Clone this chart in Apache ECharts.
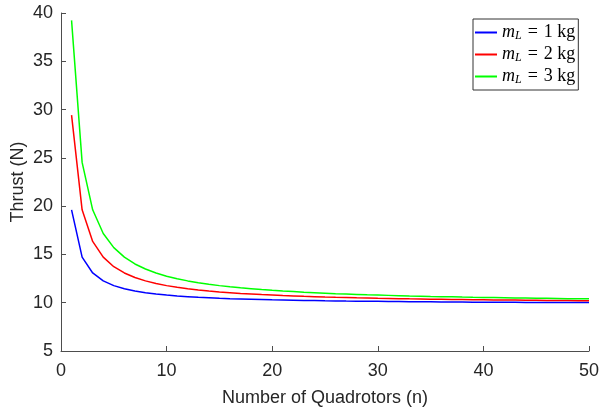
<!DOCTYPE html>
<html>
<head>
<meta charset="utf-8">
<script src="https://cdn.jsdelivr.net/npm/echarts@6/dist/echarts.min.js"></script>
<style>
  html, body { margin: 0; padding: 0; background: #fff; }
  #chart { width: 600px; height: 412px; }
</style>
</head>
<body>
<div id="chart"></div>
<script>
// number of quadrotors
const nValues = [1,2,3,4,5,6,7,8,9,10,11,12,13,14,15,16,17,18,19,20,21,22,23,24,25,
  26,27,28,29,30,31,32,33,34,35,36,37,38,39,40,41,42,43,44,45,46,47,48,49,50];

// thrust per quadrotor (N)
const thrustL1 = [19.62,14.72,13.08,12.26,11.77,11.45,11.21,11.04,10.90,10.79,10.70,10.63,10.56,10.51,10.46,
  10.42,10.39,10.36,10.33,10.30,10.28,10.26,10.24,10.22,10.20,10.19,10.17,10.16,10.15,10.14,
  10.13,10.12,10.11,10.10,10.09,10.08,10.08,10.07,10.06,10.06,10.05,10.04,10.04,10.03,10.03,
  10.02,10.02,10.01,10.01,10.01];
const thrustL2 = [29.43,19.62,16.35,14.72,13.73,13.08,12.61,12.26,11.99,11.77,11.59,11.45,11.32,11.21,11.12,
  11.04,10.96,10.90,10.84,10.79,10.74,10.70,10.66,10.63,10.59,10.56,10.54,10.51,10.49,10.46,
  10.44,10.42,10.40,10.39,10.37,10.36,10.34,10.33,10.31,10.30,10.29,10.28,10.27,10.26,10.25,
  10.24,10.23,10.22,10.21,10.20];
const thrustL3 = [39.24,24.53,19.62,17.17,15.70,14.72,14.01,13.49,13.08,12.75,12.49,12.26,12.07,11.91,11.77,
  11.65,11.54,11.45,11.36,11.28,11.21,11.15,11.09,11.04,10.99,10.94,10.90,10.86,10.82,10.79,
  10.76,10.73,10.70,10.68,10.65,10.63,10.61,10.58,10.56,10.55,10.53,10.51,10.49,10.48,10.46,
  10.45,10.44,10.42,10.41,10.40];

const seriesNames = ['L1', 'L2', 'L3'];
const loadLabels = ['1', '2', '3'];
const seriesColors = ['#0000ff', '#ff0000', '#00ff00'];

const zip = (xs, ys) => xs.map((x, i) => [x, ys[i]]);
const allThrust = [thrustL1, thrustL2, thrustL3];

const axisColor = '#4d4d4d';
const textColor = '#262626';
const sans = 'Liberation Sans, Arial, sans-serif';
const serif = 'Liberation Serif, DejaVu Serif, serif';

const chart = echarts.init(document.getElementById('chart'), null, { renderer: 'canvas' });

chart.setOption({
  animation: false,
  backgroundColor: '#fff',
  grid: { left: 61, right: 11, top: 13, bottom: 61, outerBoundsMode: 'none', containLabel: false },
  legend: {
    orient: 'vertical',
    left: 473,
    top: 19,
    padding: [4, 3, 4, 2],
    itemGap: 3,
    itemWidth: 22,
    itemHeight: 2,
    icon: 'rect',
    borderColor: '#333',
    borderWidth: 1,
    backgroundColor: '#fff',
    data: seriesNames,
    formatter: (name) => {
      const i = seriesNames.indexOf(name);
      return '{m|m}{s|L}{e|=}{t|' + loadLabels[i] + ' kg}';
    },
    textStyle: {
      rich: {
        m: { fontFamily: serif, fontStyle: 'italic', fontSize: 18, color: '#000', lineHeight: 18 },
        s: { fontFamily: serif, fontStyle: 'italic', fontSize: 12, color: '#000', padding: [7, 0, 0, 0], lineHeight: 18 },
        e: { fontFamily: serif, fontSize: 18, color: '#000', lineHeight: 18, padding: [0, 6, 0, 6] },
        t: { fontFamily: serif, fontSize: 18, color: '#000', lineHeight: 18 },
      },
    },
  },
  xAxis: {
    type: 'value', min: 0, max: 50, interval: 10,
    name: 'Number of Quadrotors (n)',
    nameLocation: 'middle', nameGap: 38,
    nameTextStyle: { fontFamily: sans, fontSize: 18, color: textColor },
    axisLine: { lineStyle: { color: axisColor, width: 1 } },
    axisTick: { inside: true, length: 5, lineStyle: { color: axisColor } },
    axisLabel: { fontFamily: sans, fontSize: 18, color: textColor, margin: 11 },
    splitLine: { show: false },
  },
  yAxis: {
    type: 'value', min: 5, max: 40, interval: 5,
    name: 'Thrust (N)',
    nameLocation: 'middle', nameGap: 34, nameMoveOverlap: false,
    nameTextStyle: { fontFamily: sans, fontSize: 18, color: textColor },
    axisLine: { show: true, lineStyle: { color: axisColor, width: 1 } },
    axisTick: { show: true, inside: true, length: 5, lineStyle: { color: axisColor } },
    axisLabel: { fontFamily: sans, fontSize: 18, color: textColor, margin: 8 },
    splitLine: { show: false },
  },
  series: seriesNames.map((name, i) => ({
    name,
    type: 'line',
    data: zip(nValues, allThrust[i]),
    showSymbol: false,
    symbol: 'none',
    lineStyle: { color: seriesColors[i], width: 1.5 },
    itemStyle: { color: seriesColors[i] },
  })),
});
</script>
</body>
</html>
